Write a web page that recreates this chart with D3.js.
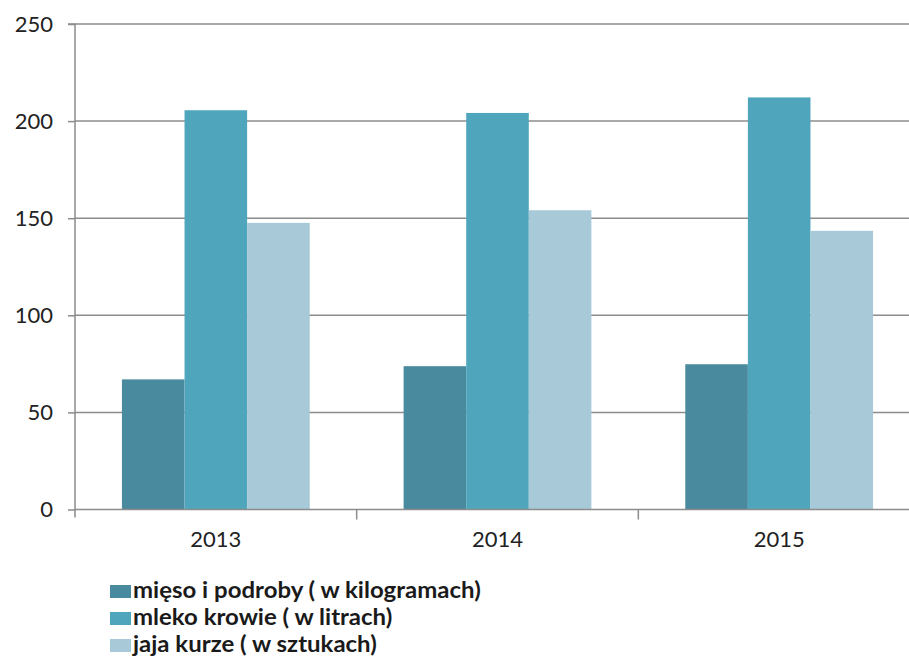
<!DOCTYPE html>
<html><head><meta charset="utf-8">
<script src="https://cdn.jsdelivr.net/npm/d3@7"></script>
<style>body{margin:0;background:#fff}svg{display:block}text{font-family:Lato,"Open Sans",sans-serif}</style>
</head><body>
<svg id="c" width="909" height="669"></svg>
<script>
const categories = ["2013", "2014", "2015"];
const seriesNames = ["mięso i podroby ( w kilogramach)", "mleko krowie ( w litrach)", "jaja kurze ( w sztukach)"];
const mieso = [67.0, 73.8, 74.8];
const mleko = [205.6, 204.2, 212.2];
const jaja = [147.6, 154.1, 143.5];
const yTicks = [0, 50, 100, 150, 200, 250];
const colors = ["#4a8a9e", "#4fa6bc", "#a8cad8"];

const series = [mieso, mleko, jaja];
const svg = d3.select("#c");
const mLeft = 75, mRight = 920, mTop = 24, mBottom = 509.5;

const y = d3.scaleLinear().domain([0, 250]).range([mBottom, mTop]);
const x0 = d3.scaleBand().domain(categories).range([mLeft, mRight]).paddingInner(1/3).paddingOuter(1/6);
const x1 = d3.scaleBand().domain(d3.range(series.length)).range([0, x0.bandwidth()]);

// gridlines
svg.append("g").selectAll("line").data(yTicks.filter(d => d > 0)).join("line")
  .attr("x1", mLeft).attr("x2", mRight).attr("y1", d => y(d)).attr("y2", d => y(d))
  .attr("stroke", "#8c8c8c").attr("stroke-width", 1.5);

// bars
const g = svg.append("g");
series.forEach((vals, si) => {
  g.selectAll(null).data(vals).join("rect")
    .attr("x", (d, i) => x0(categories[i]) + x1(si))
    .attr("width", x1.bandwidth())
    .attr("y", d => y(d))
    .attr("height", d => y(0) - y(d))
    .attr("fill", colors[si]);
});

// y axis
const yAxis = d3.axisLeft(y).tickValues(yTicks).tickSize(7).tickPadding(15).tickFormat(d3.format("d"));
const ya = svg.append("g").attr("transform", `translate(${mLeft},0)`).call(yAxis);
ya.select(".domain").attr("stroke", "#8c8c8c").attr("stroke-width", 1.5).attr("d", `M-7,${mTop}H0V${mBottom + 8}`);
ya.selectAll(".tick line").attr("stroke", "#8c8c8c").attr("stroke-width", 1.5);
ya.selectAll(".tick text").attr("font-size", 22).attr("fill", "#222").attr("font-family", "Lato, sans-serif");

// x axis
const xa = svg.append("g").attr("transform", `translate(0,${mBottom})`)
  .call(d3.axisBottom(x0).tickSize(0).tickPadding(22));
xa.select(".domain").attr("stroke", "#8c8c8c").attr("stroke-width", 1.5).attr("d", `M${mLeft},0H${mRight}`);
xa.selectAll(".tick text").attr("font-size", 22).attr("fill", "#222").attr("font-family", "Lato, sans-serif");
// category separator ticks
const seps = categories.slice(1).map(c => x0(c) - x0.step() * x0.paddingInner() / 2);
xa.selectAll(".sep").data(seps).join("line").attr("class", "sep")
  .attr("x1", d => d).attr("x2", d => d).attr("y1", 0).attr("y2", 10)
  .attr("stroke", "#8c8c8c").attr("stroke-width", 1.5);

// legend
const lg = svg.append("g").attr("transform", "translate(110,585)");
seriesNames.forEach((name, i) => {
  const row = lg.append("g").attr("transform", `translate(0,${i * 27})`);
  row.append("rect").attr("width", 21).attr("height", 13).attr("fill", colors[i]);
  const t = row.append("text").attr("x", 23).attr("y", 13).attr("font-size", 22).attr("font-weight", "bold")
    .attr("fill", "#1a1a1a").text(name);
  const w = t.node().getComputedTextLength();
  t.attr("textLength", w * 1.09).attr("lengthAdjust", "spacingAndGlyphs");
});
</script>
</body></html>
